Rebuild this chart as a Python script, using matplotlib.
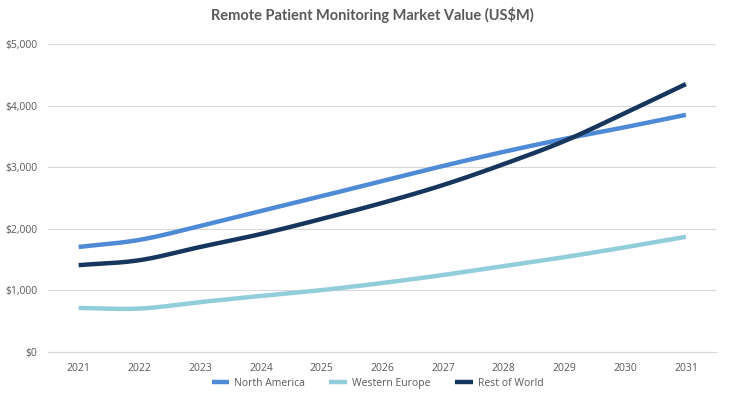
import numpy as np
import matplotlib
matplotlib.use('Agg')
import matplotlib.pyplot as plt
from matplotlib.ticker import FuncFormatter

years = [2021, 2022, 2023, 2024, 2025, 2026, 2027, 2028, 2029, 2030, 2031]
north_america = [1705, 1820, 2045, 2290, 2530, 2775, 3020, 3250, 3460, 3650, 3850]
western_europe = [715, 705, 810, 910, 1005, 1120, 1250, 1395, 1540, 1700, 1870]
rest_of_world = [1410, 1490, 1705, 1915, 2160, 2420, 2710, 3050, 3425, 3880, 4350]

series = [('North America', north_america, '#4F8AD6'),
          ('Western Europe', western_europe, '#92CDDC'),
          ('Rest of World', rest_of_world, '#17365D')]


def smooth(x, y, n=20):
    # Catmull-Rom style curve through the points, like a spreadsheet "smoothed line"
    x = np.asarray(x, float)
    y = np.asarray(y, float)
    m = np.gradient(y, x)
    xs, ys = [], []
    for i in range(len(x) - 1):
        h = x[i + 1] - x[i]
        t = np.linspace(0, 1, n, endpoint=False)
        h00 = 2 * t**3 - 3 * t**2 + 1
        h10 = t**3 - 2 * t**2 + t
        h01 = -2 * t**3 + 3 * t**2
        h11 = t**3 - t**2
        xs.append(x[i] + t * h)
        ys.append(h00 * y[i] + h10 * h * m[i] + h01 * y[i + 1] + h11 * h * m[i + 1])
    xs.append([x[-1]])
    ys.append([y[-1]])
    return np.concatenate(xs), np.concatenate(ys)


plt.rcParams['font.family'] = ['Open Sans', 'DejaVu Sans']
fig = plt.figure(figsize=(7.43, 3.94), dpi=100)
ax = fig.add_axes([0.065, 0.1066, 0.899, 0.7817])

for label, vals, col in series:
    sx, sy = smooth(years, vals)
    ax.plot(sx, sy, color=col, lw=3.2, label=label, solid_capstyle='butt')

ax.set_xlim(2020.5, 2031.5)
ax.set_ylim(0, 5000)
ax.set_xticks(years)
ax.set_yticks(range(0, 5001, 1000))
ax.yaxis.set_major_formatter(FuncFormatter(lambda v, p: '${:,.0f}'.format(v)))
ax.grid(True, axis='y', color='#D9D9D9', lw=0.8)
ax.set_axisbelow(True)
for s in ['top', 'right', 'left']:
    ax.spines[s].set_visible(False)
ax.spines['bottom'].set_color('#D9D9D9')
ax.tick_params(length=0, labelsize=7.5, colors='#595959', pad=8)

fig.suptitle('Remote Patient Monitoring Market Value (US$M)', x=0.501, y=0.983,
             fontsize=10.5, fontweight='bold', color='#595959', family=['Lato', 'DejaVu Sans'])
fig.legend(loc='lower center', bbox_to_anchor=(0.508, -0.01), ncol=3, frameon=False,
           fontsize=7.5, labelcolor='#595959', handlelength=1.7, columnspacing=2.3,
           handletextpad=0.5)

fig.savefig('out.png', dpi=100)
